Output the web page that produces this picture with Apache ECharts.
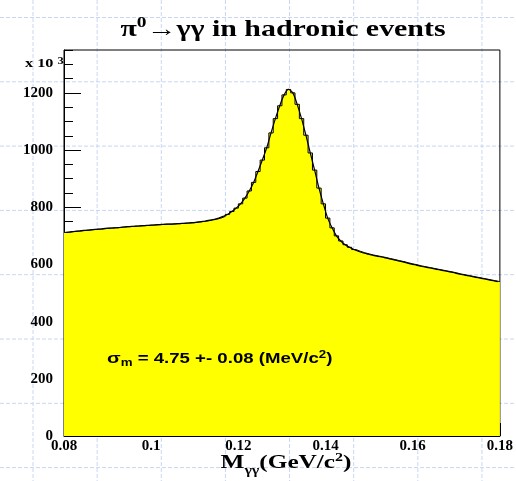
<!DOCTYPE html>
<html>
<head>
<meta charset="utf-8">
<script src="https://cdn.jsdelivr.net/npm/echarts@6/dist/echarts.min.js"></script>
<style>
  html, body { margin: 0; padding: 0; background: #fff; }
  #chart { width: 516px; height: 481px; }
</style>
</head>
<body>
<div id="chart"></div>
<script>
// histogram binning (GeV/c^2)
const xMin = 0.08
const xMax = 0.18
const binWidth = 0.001

// entries per bin, in units of 10^3
const counts = [
  712, 714, 716, 717, 719, 720, 722, 723, 724, 726,
  727, 728, 729, 731, 732, 733, 734, 735, 736, 737,
  738, 739, 740, 741, 741, 742, 743, 744, 745, 746,
  748, 750, 752, 755, 758, 762, 768, 775, 785, 797,
  812, 832, 857, 887, 925, 965, 1008, 1060, 1110, 1155,
  1193, 1212, 1200, 1160, 1110, 1052, 990, 930, 867, 812,
  762, 728, 700, 682, 669, 660, 652, 646, 641, 637,
  633, 630, 627, 624, 620, 617, 613, 610, 606, 602,
  599, 595, 592, 589, 586, 583, 580, 577, 574, 571,
  567, 564, 561, 558, 555, 552, 549, 546, 543, 540
]

const yMax = 1350
const serif = '"Liberation Serif", "DejaVu Serif", serif'
const sans = '"Liberation Sans", Arial, sans-serif'

const chart = echarts.init(document.getElementById('chart'))

// step outline: low edge of each bin, plus closing point at upper edge
const stepData = counts.map((v, i) => [+(xMin + i * binWidth).toFixed(4), v])
stepData.push([xMax, counts[counts.length - 1]])
// fit curve through bin centres
const fitData = counts.map((v, i) => [+(xMin + (i + 0.5) * binWidth).toFixed(4), v])

// pale dashed background grid (pad decoration)
const bgLines = []
for (let k = 0; k < 8; k++) {
  const x = 33 + 64.14 * k
  bgLines.push({
    type: 'line', z: -10, silent: true,
    shape: { x1: x, y1: 0, x2: x, y2: 481 },
    style: { stroke: '#c9d6f2', lineWidth: 1, lineDash: [4, 2] }
  })
}
for (let k = 0; k < 8; k++) {
  const y = 17.5 + 64.3 * k
  bgLines.push({
    type: 'line', z: -10, silent: true,
    shape: { x1: 0, y1: y, x2: 516, y2: y },
    style: { stroke: '#c9d6f2', lineWidth: 1, lineDash: [4, 2] }
  })
}

const labelStyle = { color: '#000', fontFamily: serif, fontWeight: 'bold', fontSize: 15 }

const option = {
  backgroundColor: '#fff',
  animation: false,
  grid: {
    left: 64, right: 14, top: 50, bottom: 45,
    show: true, borderColor: '#000', borderWidth: 1, backgroundColor: 'transparent'
  },
  xAxis: [
    {
      type: 'value', min: xMin, max: xMax, interval: 0.02,
      axisLine: { lineStyle: { color: '#000', width: 1 } },
      axisTick: { inside: true, length: 13, lineStyle: { color: '#000' } },
      axisLabel: { ...labelStyle, margin: 3 },
      splitLine: { show: false }
    },
    {
      type: 'value', min: xMin, max: xMax, interval: 0.005, position: 'bottom',
      axisLine: { show: false },
      axisTick: { inside: true, length: 6, lineStyle: { color: '#000' } },
      axisLabel: { show: false },
      splitLine: { show: false }
    }
  ],
  yAxis: [
    {
      type: 'value', min: 0, max: yMax, interval: 200,
      axisLine: { lineStyle: { color: '#000', width: 1 } },
      axisTick: { inside: true, length: 17, lineStyle: { color: '#000' } },
      axisLabel: { ...labelStyle, margin: 11, showMaxLabel: false, formatter: (v) => String(v) },
      splitLine: { show: false }
    },
    {
      type: 'value', min: 0, max: yMax, interval: 50, position: 'left',
      axisLine: { show: false },
      axisTick: { inside: true, length: 9, lineStyle: { color: '#000' } },
      axisLabel: { show: false },
      splitLine: { show: false }
    }
  ],
  series: [
    {
      type: 'line',
      data: stepData,
      step: 'end',
      symbol: 'none',
      lineStyle: { color: '#000', width: 1 },
      areaStyle: { color: '#ffff00', opacity: 1 },
      z: 2
    },
    {
      type: 'line',
      data: fitData,
      smooth: 0.3,
      symbol: 'none',
      lineStyle: { color: '#000', width: 1.2 },
      z: 3
    }
  ],
  graphic: [
    ...bgLines,
    {
      type: 'text', x: 283, y: 30, z: 10, scaleX: 1.3,
      style: {
        text: '{t|π}{sup|0}{t|→γγ in hadronic events}',
        align: 'center', verticalAlign: 'middle',
        rich: {
          t: { fontFamily: serif, fontWeight: 'bold', fontSize: 23, fill: '#000', lineHeight: 28 },
          sup: { fontFamily: serif, fontWeight: 'bold', fontSize: 15, fill: '#000', verticalAlign: 'top', lineHeight: 18 }
        }
      }
    },
    {
      type: 'text', x: 25, y: 64, z: 10, scaleX: 1.25,
      style: {
        text: '{t|x 10 }{sup|3}',
        align: 'left', verticalAlign: 'middle',
        rich: {
          t: { fontFamily: serif, fontWeight: 'bold', fontSize: 13, fill: '#000', lineHeight: 16 },
          sup: { fontFamily: serif, fontWeight: 'bold', fontSize: 10, fill: '#000', verticalAlign: 'top', lineHeight: 12 }
        }
      }
    },
    {
      type: 'text', x: 286, y: 463, z: 10, scaleX: 1.33,
      style: {
        text: '{t|M}{sub|γγ}{t|(GeV/c}{sup|2}{t|)}',
        align: 'center', verticalAlign: 'middle',
        rich: {
          t: { fontFamily: serif, fontWeight: 'bold', fontSize: 19, fill: '#000', lineHeight: 22 },
          sub: { fontFamily: serif, fontWeight: 'bold', fontSize: 12, fill: '#000', verticalAlign: 'bottom', lineHeight: 12, padding: [0, 0, -3, 0] },
          sup: { fontFamily: serif, fontWeight: 'bold', fontSize: 12, fill: '#000', verticalAlign: 'top', lineHeight: 14 }
        }
      }
    },
    {
      type: 'text', x: 107, y: 359, z: 10, scaleX: 1.33,
      style: {
        text: '{s|σ}{sub|m}{t| = 4.75 +- 0.08 (MeV/c}{sup|2}{t|)}',
        align: 'left', verticalAlign: 'middle',
        rich: {
          s: { fontFamily: sans, fontWeight: 'bold', fontSize: 15, fill: '#000', lineHeight: 18 },
          t: { fontFamily: sans, fontWeight: 'bold', fontSize: 14, fill: '#000', lineHeight: 18 },
          sub: { fontFamily: sans, fontWeight: 'bold', fontSize: 10, fill: '#000', verticalAlign: 'bottom', lineHeight: 10 },
          sup: { fontFamily: sans, fontWeight: 'bold', fontSize: 10, fill: '#000', verticalAlign: 'top', lineHeight: 12 }
        }
      }
    }
  ]
}

chart.setOption(option)
</script>
</body>
</html>
